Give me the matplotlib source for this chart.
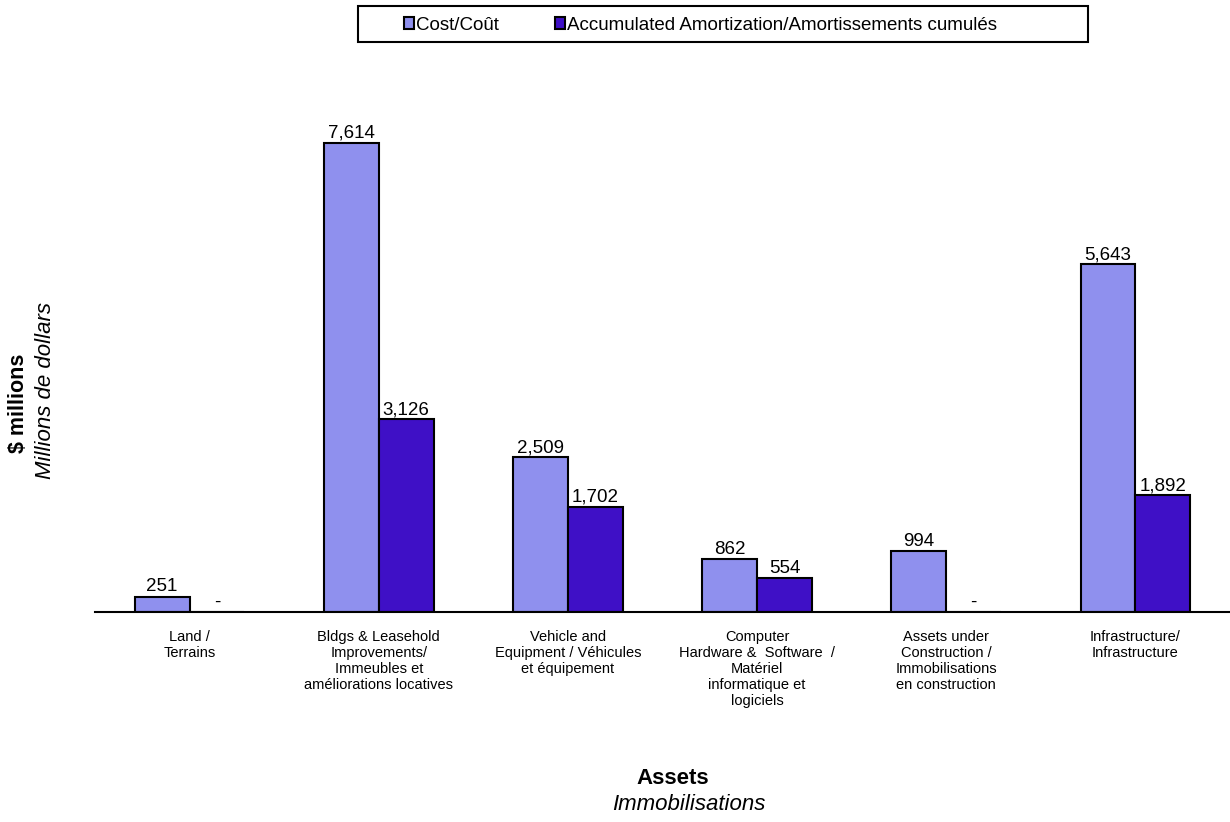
import matplotlib
matplotlib.use("Agg")
import matplotlib.pyplot as plt
from matplotlib.patches import Rectangle
import numpy as np

plt.rcParams['font.family'] = ['Liberation Sans', 'DejaVu Sans']

categories = [
    "Land /\nTerrains",
    "Bldgs & Leasehold\nImprovements/\nImmeubles et\naméliorations locatives",
    "Vehicle and\nEquipment / Véhicules\net équipement",
    "Computer\nHardware &  Software  /\nMatériel\ninformatique et\nlogiciels",
    "Assets under\nConstruction /\nImmobilisations\nen construction",
    "Infrastructure/\nInfrastructure",
]
cost = [251, 7614, 2509, 862, 994, 5643]
amortization = [0, 3126, 1702, 554, 0, 1892]
series_names = ["Cost/Coût", "Accumulated Amortization/Amortissements cumulés"]
colors = ["#8F90EE", "#3F10C6"]

W, H = 1230, 822
fig = plt.figure(figsize=(W / 100, H / 100), dpi=100)
ax = fig.add_axes([95 / W, 1 - 612 / H, 1 - 95 / W, 612 / H - 0.07])

x = np.arange(len(categories))
w = 0.29
b1 = ax.bar(x - w / 2, cost, w, color=colors[0], edgecolor="black", linewidth=1.5,
            label=series_names[0])
b2 = ax.bar(x + w / 2, amortization, w, color=colors[1], edgecolor="black", linewidth=1.5,
            label=series_names[1])

def fmt(v):
    return "-" if v == 0 else f"{v:,.0f}"

for bars, vals in ((b1, cost), (b2, amortization)):
    for rect, v in zip(bars, vals):
        ax.text(rect.get_x() + rect.get_width() / 2, v + 20, fmt(v),
                ha="center", va="bottom", fontsize=13.5)

ax.set_xlim(-0.5, len(categories) - 0.5)
# top limit chosen so that 7,614 reaches the same height as the tallest bar
ax.set_ylim(0, 7614 * (612 / H - 0.07) * H / (612 - 143))
for s in ("top", "right", "left"):
    ax.spines[s].set_visible(False)
ax.spines["bottom"].set_linewidth(1.5)
ax.set_yticks([])
ax.set_xticks(x)
ax.set_xticklabels(categories, fontsize=10.5, linespacing=1.18)
ax.tick_params(axis="x", length=0, pad=13)

fig.text(673 / W, 1 - 778 / H, "Assets", ha="center", va="center",
         fontsize=16, fontweight="bold")
fig.text(689 / W, 1 - 804 / H, "Immobilisations", ha="center", va="center",
         fontsize=16, style="italic")
fig.text(19 / W, 1 - 403 / H, "$ millions", ha="center", va="center", rotation=90,
         fontsize=15.5, fontweight="bold")
fig.text(46 / W, 1 - 390 / H, "Millions de dollars", ha="center", va="center",
         rotation=90, fontsize=16, style="italic")

# legend frame
fig.patches.append(Rectangle((358 / W, 1 - 42 / H), (1088 - 358) / W, 36 / H,
                             transform=fig.transFigure, facecolor="white",
                             edgecolor="black", linewidth=1.5, zorder=0))
fig.legend(handles=[b1, b2], loc="center left", bbox_to_anchor=(400 / W, 1 - 25 / H),
           ncol=2, fontsize=13.5, frameon=False,
           handlelength=0.55, handleheight=0.55, handletextpad=0.1,
           columnspacing=3.0, borderpad=0.2, borderaxespad=0)

fig.savefig("out.png", dpi=100)
